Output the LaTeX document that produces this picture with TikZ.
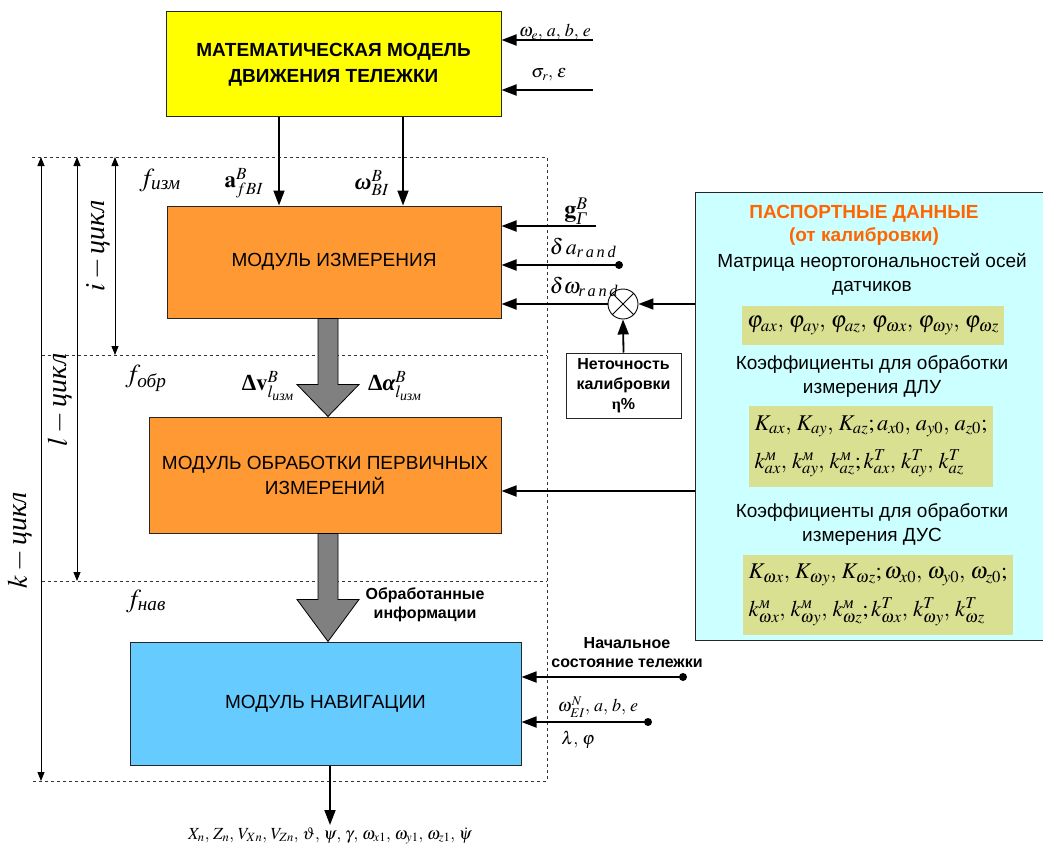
\documentclass[tikz,border=0pt]{standalone}
\usepackage{amsmath}
\usepackage{mathptmx}
\usepackage[no-math]{fontspec}
\setmainfont{Liberation Sans}
\newfontfamily\cyrserif{Liberation Serif}
\usetikzlibrary{arrows.meta,calc}
\newcommand\cy[1]{\text{\cyrserif\itshape #1}}
\newcommand\bgr[1]{\text{\cyrserif\bfseries\itshape #1}}
\newcommand\bup[1]{\text{\cyrserif\bfseries #1}}
\newcommand\cm{,\,}
\definecolor{yel}{RGB}{255,255,0}
\definecolor{org}{RGB}{255,153,51}
\definecolor{blu}{RGB}{102,204,255}
\definecolor{cyn}{RGB}{204,255,255}
\definecolor{grn}{RGB}{217,224,145}
\definecolor{ttl}{RGB}{255,102,0}
\definecolor{gry}{RGB}{128,128,128}
\tikzset{
  blk/.style={draw=black!85,line width=1pt,inner sep=0pt,align=center},
  conn/.style={line width=1.8pt,-{Triangle[length=15pt,width=11pt]}},
  cyc/.style={line width=0.8pt,{Triangle[length=9pt,width=7pt]}-{Triangle[length=9pt,width=7pt]}},
  frame/.style={dashed,line width=0.7pt,black!80},
  ml/.style={inner sep=0pt,font=\fontsize{18}{20}\selectfont},
  bt/.style={inner sep=0pt,align=center,font=\fontsize{16}{19}\selectfont\bfseries},
  rt/.style={inner sep=0pt,align=center,font=\fontsize{19}{24}\selectfont},
  fatarrow/.style={fill=gry,draw=black,line width=0.8pt},
  dot/.style={circle,fill=black,inner sep=0pt,minimum size=8pt},
}
\begin{document}
\begin{tikzpicture}[x=1pt,y=-1pt]
\useasboundingbox (0,0) rectangle (1043,848);

% dashed frame
\draw[frame] (32,157) -- (547,157) -- (547,781) -- (32,781);
\draw[frame] (42,355) -- (547,355);
\draw[frame] (42,581) -- (547,581);

% cycle arrows
\coordinate (kt) at (41,157); \coordinate (kb) at (41,781);
\coordinate (lt) at (77,157); \coordinate (lb) at (77,581);
\coordinate (it) at (115,157); \coordinate (ib) at (115,355);
\draw[cyc] (kt) -- (kb);
\draw[cyc] (lt) -- (lb);
\draw[cyc] (it) -- (ib);
\node[ml,rotate=90,font=\fontsize{28}{30}\selectfont] (klab) at (20,540) {$k-\cy{цикл}$};
\node[ml,rotate=90,font=\fontsize{28}{30}\selectfont] (llab) at (60,400) {$l-\cy{цикл}$};
\node[ml,rotate=90,font=\fontsize{28}{30}\selectfont] (ilab) at (98,246) {$i-\cy{цикл}$};

\node[ml,font=\fontsize{26}{28}\selectfont] (fizm) at (160,180) {$f_{\cy{изм}}$};
\node[ml,font=\fontsize{26}{28}\selectfont] (fobr) at (146,378) {$f_{\cy{обр}}$};
\node[ml,font=\fontsize{26}{28}\selectfont] (fnav) at (146,601) {$f_{\cy{нав}}$};

% main boxes
\node[blk,fill=yel,minimum width=335,minimum height=105,font=\fontsize{19}{26}\selectfont\bfseries] (ym) at (333.5,64.5) {МАТЕМАТИЧЕСКАЯ МОДЕЛЬ\\ДВИЖЕНИЯ ТЕЛЕЖКИ};
\node[blk,fill=org,minimum width=334,minimum height=112,font=\fontsize{19}{25}\selectfont] (m1) at (334,262) {МОДУЛЬ ИЗМЕРЕНИЯ};
\node[blk,fill=org,minimum width=352,minimum height=116,font=\fontsize{19}{25}\selectfont] (m2) at (325,475) {МОДУЛЬ ОБРАБОТКИ ПЕРВИЧНЫХ\\ИЗМЕРЕНИЙ};
\node[blk,fill=blu,minimum width=391,minimum height=123,font=\fontsize{19}{25}\selectfont] (m3) at (325.5,703.5) {МОДУЛЬ НАВИГАЦИИ};

% inputs to yellow
\coordinate (y1) at (593,40); \coordinate (y2) at (593,90);
\draw[conn] (y1) -- (ym.east |- y1);
\draw[conn] (y2) -- (ym.east |- y2);
\node[ml] (ly1) at (555,32) {$\omega_e\cm a\cm b\cm e$};
\node[ml] (ly2) at (549,75) {$\sigma_r\cm\varepsilon$};

% yellow -> m1
\coordinate (ca) at (279,0); \coordinate (cw) at (403,0);
\draw[conn] (ym.south -| ca) -- (m1.north -| ca);
\draw[conn] (ym.south -| cw) -- (m1.north -| cw);
\node[ml,font=\fontsize{23}{24}\selectfont] (la) at (244,183) {$\mathbf{a}^B_{fBI}$};
\node[ml,font=\fontsize{23}{24}\selectfont] (lw) at (372,183) {$\bgr{ω}^B_{BI}$};

% inputs to m1
\coordinate (g1) at (596,226);
\node[dot] (d1) at (619,265) {};
\node[circle,draw=black,line width=0.9pt,minimum size=30pt,inner sep=0pt] (ox) at (623,304) {};
\draw[line width=0.9pt] (ox.45) -- (ox.225) (ox.135) -- (ox.315);
\draw[conn] (g1) -- (m1.east |- g1);
\draw[conn] (d1.center) -- (m1.east |- d1);
\draw[conn] (ox.west) -- (m1.east |- ox);
\node[ml,font=\fontsize{24}{24}\selectfont] (lg) at (576,211) {$\mathbf{g}^B_{\cy{Г}}$};
\node[ml,font=\fontsize{22}{22}\selectfont] (lda) at (583,248) {$\delta\,a_{\cy{r\,a\,n\,d}}$};
\node[ml,font=\fontsize{22}{22}\selectfont] (ldw) at (584,287) {$\delta\omega_{\cy{r\,a\,n\,d}}$};

\node[blk,fill=white,minimum width=115,minimum height=65,font=\fontsize{16}{20}\selectfont\bfseries] (nt) at (623.5,385.5) {Неточность\\калибровки\\{\cyrserif\bfseries η}\%};
\draw[conn] (nt.north) -- (ox.south);

% passport box
\node[blk,fill=cyn,minimum width=353,minimum height=448] (pd) at (871.5,416) {};
\draw[conn] (pd.west |- ox) -- (ox.east);
\draw[conn] (pd.west |- 0,491) -- (m2.east |- 0,491);

\node[inner sep=0pt,align=center,text=ttl,font=\fontsize{19}{23}\selectfont\bfseries] (pt) at (864,225) {ПАСПОРТНЫЕ ДАННЫЕ\\(от калибровки)};
\node[rt] (t1) at (872,274) {Матрица неортогональностей осей\\датчиков};
\node[fill=grn,minimum width=262,minimum height=39,inner sep=0pt,font=\fontsize{23}{26}\selectfont] (g1b) at (873,325.5) {$\varphi_{ax}\cm\varphi_{ay}\cm\varphi_{az}\cm\varphi_{\omega x}\cm\varphi_{\omega y}\cm\varphi_{\omega z}$};
\node[rt] (t2) at (872,376) {Коэффициенты для обработки\\измерения ДЛУ};
\node[fill=grn,minimum width=244,minimum height=81,inner sep=0pt,align=left,font=\fontsize{22.5}{38}\selectfont] (g2b) at (871,446.5) {$K_{ax}\cm K_{ay}\cm K_{az}; a_{x0}\cm a_{y0}\cm a_{z0};$\\$k^{\cy{м}}_{ax}\cm k^{\cy{м}}_{ay}\cm k^{\cy{м}}_{az}; k^T_{ax}\cm k^T_{ay}\cm k^T_{az}$};
\node[rt] (t3) at (872,524) {Коэффициенты для обработки\\измерения ДУС};
\node[fill=grn,minimum width=270,minimum height=80,inner sep=0pt,align=left,font=\fontsize{22.5}{38}\selectfont] (g3b) at (878,595) {$K_{\omega x}\cm K_{\omega y}\cm K_{\omega z}; \omega_{x0}\cm \omega_{y0}\cm \omega_{z0};$\\$k^{\cy{м}}_{\omega x}\cm k^{\cy{м}}_{\omega y}\cm k^{\cy{м}}_{\omega z}; k^T_{\omega x}\cm k^T_{\omega y}\cm k^T_{\omega z}$};

% fat arrows
\path let \p1=($(m1.south)+(-6,0)$), \p2=(m2.north -| \p1) in
  [fatarrow] (\x1-10pt,\y1) -- (\x1-10pt,\y2+32pt) -- (\x1-31pt,\y2+32pt) -- (\x1,\y2)
  -- (\x1+31pt,\y2+32pt) -- (\x1+10pt,\y2+32pt) -- (\x1+10pt,\y1) -- cycle;
\path let \p1=($(m2.south)+(3,0)$), \p2=(m3.north -| \p1) in
  [fatarrow] (\x1-10pt,\y1) -- (\x1-10pt,\y2+42pt) -- (\x1-31pt,\y2+42pt) -- (\x1,\y2)
  -- (\x1+31pt,\y2+42pt) -- (\x1+10pt,\y2+42pt) -- (\x1+10pt,\y1) -- cycle;
\node[ml,font=\fontsize{23}{24}\selectfont] (ldv) at (268,386) {$\bup{Δ}\mathbf{v}^B_{l_{\cy{изм}}}$};
\node[ml,font=\fontsize{23}{24}\selectfont] (lda2) at (395,386) {$\bup{Δ}\bgr{α}^B_{l_{\cy{изм}}}$};
\node[bt] (obr) at (425,605) {Обработанные\\информации};

% inputs to m3
\node[dot] (d3) at (683,677) {};
\node[dot] (d4) at (648,722) {};
\draw[conn] (d3.center) -- (m3.east |- d3);
\draw[conn] (d4.center) -- (m3.east |- d4);
\node[bt] (nach) at (627,653) {Начальное\\состояние тележки};
\node[ml] (lw3) at (598,707) {$\omega^N_{EI}\cm a\cm b\cm e$};
\node[ml] (llp) at (578,740) {$\lambda\cm\varphi$};

% output
\coordinate (out) at (330,825);
\draw[conn] (m3.south -| out) -- (out);
\node[ml,font=\fontsize{17}{18}\selectfont] (lout) at (330,836) {$X_n\cm Z_n\cm V_{Xn}\cm V_{Zn}\cm \vartheta\cm \psi\cm \gamma\cm \omega_{x1}\cm \omega_{y1}\cm \omega_{z1}\cm \dot{\psi}$};
\end{tikzpicture}
\end{document}
